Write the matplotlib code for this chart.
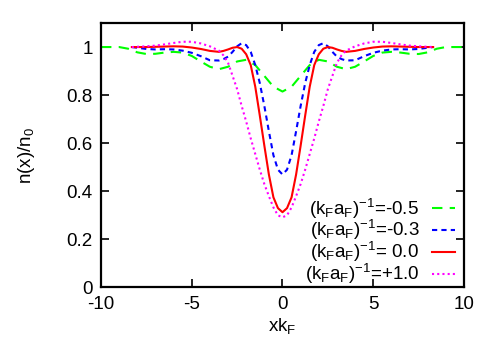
import matplotlib
matplotlib.use("Agg")
import matplotlib.pyplot as plt

plt.rcParams["font.family"] = ["Liberation Sans", "DejaVu Sans"]
plt.rcParams["mathtext.default"] = "regular"
plt.rcParams["axes.unicode_minus"] = False

# positions along x (units of 1/k_F) for the three inner curves
x_core = [-8.3, -7.5, -7.0, -6.5, -6.0, -5.5, -5.0, -4.5, -4.0, -3.5, -3.25, -3.0,
          -2.75, -2.5, -2.25, -2.0, -1.75, -1.5, -1.25, -1.0, -0.75, -0.5, -0.25,
          0.0, 0.25, 0.5, 0.75, 1.0, 1.25, 1.5, 1.75, 2.0, 2.25, 2.5, 2.75, 3.0,
          3.25, 3.5, 4.0, 4.5, 5.0, 5.5, 6.0, 6.5, 7.0, 7.5, 8.3]

n_m03 = [1.0, 0.992, 0.99, 0.991, 0.99, 0.985, 0.976, 0.962, 0.945, 0.944, 0.95, 0.96,
         0.98, 1.003, 1.016, 1.008, 0.98, 0.925, 0.85, 0.755, 0.65, 0.55, 0.49,
         0.47, 0.49, 0.55, 0.65, 0.755, 0.85, 0.925, 0.98, 1.008, 1.016, 1.003, 0.98, 0.96,
         0.95, 0.944, 0.945, 0.962, 0.976, 0.985, 0.99, 0.991, 0.99, 0.992, 1.0]

n_00 = [1.0, 1.0, 1.001, 1.002, 1.003, 1.002, 0.998, 0.992, 0.984, 0.98, 0.984, 0.99,
        0.997, 1.0, 0.993, 0.97, 0.925, 0.835, 0.715, 0.59, 0.47, 0.375, 0.33,
        0.313, 0.33, 0.375, 0.47, 0.59, 0.715, 0.835, 0.925, 0.97, 0.993, 1.0, 0.997, 0.99,
        0.984, 0.98, 0.984, 0.992, 0.998, 1.002, 1.003, 1.002, 1.001, 1.0, 1.0]

n_p10 = [1.0, 1.003, 1.006, 1.011, 1.017, 1.022, 1.022, 1.015, 1.003, 0.985, 0.965, 0.935,
         0.88, 0.825, 0.755, 0.69, 0.62, 0.555, 0.49, 0.43, 0.38, 0.333, 0.30,
         0.292, 0.30, 0.333, 0.38, 0.43, 0.49, 0.555, 0.62, 0.69, 0.755, 0.825, 0.88, 0.935,
         0.965, 0.985, 1.003, 1.015, 1.022, 1.022, 1.017, 1.011, 1.006, 1.003, 1.0]

# the -0.5 curve runs over the full range
x_wide = [-10.0, -9.0, -8.5, -8.0, -7.5, -7.0, -6.5, -6.0, -5.5, -5.0, -4.5, -4.0, -3.5,
          -3.0, -2.5, -2.0, -1.5, -1.0, -0.5, 0.0, 0.5, 1.0, 1.5, 2.0, 2.5, 3.0,
          3.5, 4.0, 4.5, 5.0, 5.5, 6.0, 6.5, 7.0, 7.5, 8.0, 8.5, 9.0, 10.0]

n_m05 = [1.0, 1.0, 0.993, 0.978, 0.971, 0.972, 0.977, 0.98, 0.977, 0.963, 0.94, 0.918, 0.908,
         0.918, 0.94, 0.947, 0.925, 0.88, 0.835, 0.815, 0.835, 0.88, 0.925, 0.947, 0.94, 0.918,
         0.908, 0.918, 0.94, 0.963, 0.977, 0.98, 0.977, 0.972, 0.971, 0.978, 0.993, 1.0, 1.0]

labels = [r"$(k_Fa_F)^{-1}$=-0.5", r"$(k_Fa_F)^{-1}$=-0.3",
          r"$(k_Fa_F)^{-1}$= 0.0", r"$(k_Fa_F)^{-1}$=+1.0"]

fig = plt.figure(figsize=(4.98, 3.48), dpi=100)
ax = fig.add_axes([0.2028, 0.1739, 0.7289, 0.760])

lw = 1.5
ax.plot(x_wide, n_m05, color="#00ff00", lw=lw, dashes=(5, 3.5), label=labels[0])
ax.plot(x_core, n_m03, color="#0000ff", lw=lw, dashes=(2.5, 2), label=labels[1])
ax.plot(x_core, n_00, color="#ff0000", lw=lw, label=labels[2])
ax.plot(x_core, n_p10, color="#ff00ff", lw=lw, dashes=(1, 1.5), label=labels[3])

ax.set_xlim(-10, 10)
ax.set_ylim(0, 1.1)
ax.set_xticks([-10, -5, 0, 5, 10])
ax.set_yticks([0, 0.2, 0.4, 0.6, 0.8, 1.0])
ax.set_yticklabels(["0", "0.2", "0.4", "0.6", "0.8", "1"])
ax.tick_params(direction="in", length=6, width=1.2, labelsize=13.5,
               top=True, right=True, pad=6)
for s in ax.spines.values():
    s.set_linewidth(1.6)

ax.set_xlabel(r"xk$_F$", fontsize=13.5, labelpad=2)
ax.set_ylabel(r"n(x)/n$_0$", fontsize=13.5, labelpad=21)

ax.legend(loc="lower right", bbox_to_anchor=(0.975, 0.005), frameon=False,
          markerfirst=False, fontsize=13.5, handlelength=1.2, handletextpad=0.7,
          labelspacing=-0.12, borderpad=0.0, borderaxespad=0.0)

fig.savefig("out.png", dpi=100)
